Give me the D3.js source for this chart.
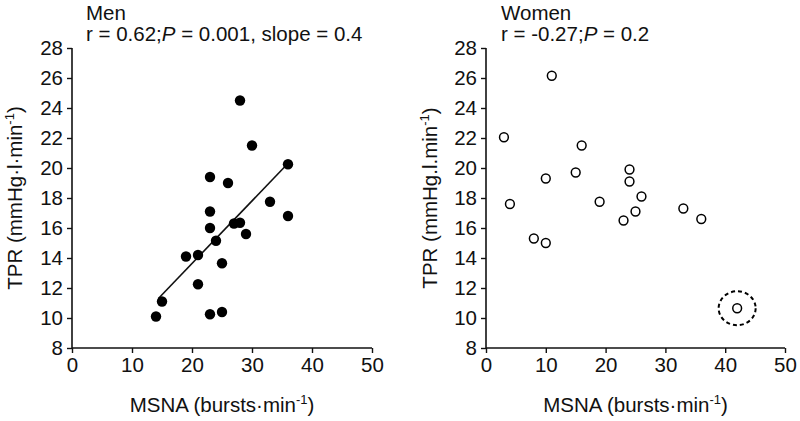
<!DOCTYPE html>
<html><head><meta charset="utf-8">
<script src="https://cdn.jsdelivr.net/npm/d3@7"></script>
<style>body{margin:0;background:#fff}svg{display:block}text{font-family:"Liberation Sans",Arial,sans-serif;fill:#111}</style>
</head><body>
<svg id="c" width="800" height="421"></svg>
<script>
// Data
const menX = [28, 30, 36, 23, 26, 33, 23, 36, 23, 27, 28, 29, 24, 19, 21, 25, 21, 15, 14, 23, 25];
const menY = [24.5, 21.5, 20.25, 19.4, 19.0, 17.75, 17.1, 16.8, 16.0, 16.3, 16.35, 15.6, 15.15, 14.1, 14.2, 13.65, 12.25, 11.1, 10.1, 10.25, 10.4];
const menLineX = [14.4, 35.5];
const menLineY = [11.3, 20.1];
const womenX = [11, 3, 16, 10, 15, 24, 24, 26, 19, 4, 33, 25, 23, 36, 8, 10, 42];
const womenY = [26.15, 22.05, 21.5, 19.3, 19.7, 19.9, 19.1, 18.1, 17.75, 17.6, 17.3, 17.1, 16.5, 16.6, 15.3, 15.0, 10.65];
const outlierIndex = 16;
const xTicks = [0, 10, 20, 30, 40, 50];
const yTicks = [8, 10, 12, 14, 16, 18, 20, 22, 24, 26, 28];

const svg = d3.select("#c");
const FS = 20.5;

function panel(x0, x1, opts) {
  const x = d3.scaleLinear().domain([0, 50]).range([x0, x1]);
  const y = d3.scaleLinear().domain([8, 28]).range([348, 48]);
  const g = svg.append("g");
  const ya = g.append("g").attr("transform", `translate(${x0},0)`)
    .call(d3.axisLeft(y).tickValues(yTicks).tickSize(5).tickPadding(4));
  const xa = g.append("g").attr("transform", `translate(0,348)`)
    .call(d3.axisBottom(x).tickValues(xTicks).tickSize(5).tickPadding(4));
  [ya, xa].forEach(a => {
    a.select(".domain").attr("stroke", "#111").attr("stroke-width", 1.6);
    a.selectAll(".tick line").attr("stroke", "#111").attr("stroke-width", 1.4);
    a.selectAll(".tick text").attr("font-size", FS).attr("font-family", "Liberation Sans, Arial, sans-serif").attr("fill", "#111");
  });
  ya.select(".domain").attr("d", `M0,${y(8)}V${y(28)}`);
  xa.select(".domain").attr("d", `M${x0},0H${x1}`);

  // titles
  g.append("text").attr("x", opts.titleX).attr("y", 20).attr("font-size", FS).text(opts.title);
  const st = g.append("text").attr("x", opts.titleX).attr("y", 41).attr("font-size", FS);
  st.append("tspan").text(opts.r + ";");
  st.append("tspan").attr("font-style", "italic").text("P");
  st.append("tspan").text(opts.p);

  // y label
  const yl = g.append("text").attr("transform", `translate(${opts.yLabelX},${(y(8)+y(28))/2}) rotate(-90)`)
    .attr("text-anchor", "middle").attr("font-size", FS);
  yl.append("tspan").text(opts.yLabel);
  yl.append("tspan").attr("font-size", 13).attr("dy", -8).text("-1");
  yl.append("tspan").attr("dy", 8).text(")");

  // x label
  const xl = g.append("text").attr("x", (x0 + x1) / 2).attr("y", 412)
    .attr("text-anchor", "middle").attr("font-size", FS);
  xl.append("tspan").text("MSNA (bursts\u00B7min");
  xl.append("tspan").attr("font-size", 13).attr("dy", -8).text("-1");
  xl.append("tspan").attr("dy", 8).text(")");
  return {x, y, g};
}

const L = panel(72, 372, {titleX: 86, title: "Men", r: "r = 0.62", p: " = 0.001, slope = 0.4", yLabel: "TPR (mmHg\u00B7l\u00B7min", yLabelX: 22});
L.g.append("line")
  .attr("x1", L.x(menLineX[0])).attr("y1", L.y(menLineY[0]))
  .attr("x2", L.x(menLineX[1])).attr("y2", L.y(menLineY[1]))
  .attr("stroke", "#111").attr("stroke-width", 1.6);
L.g.selectAll("circle.m").data(d3.range(menX.length)).join("circle")
  .attr("cx", i => L.x(menX[i])).attr("cy", i => L.y(menY[i])).attr("r", 5.2).attr("fill", "#000");

const R = panel(486, 785, {titleX: 501, title: "Women", r: "r = -0.27", p: " = 0.2", yLabel: "TPR (mmHg.l.min", yLabelX: 437});
R.g.selectAll("circle.w").data(d3.range(womenX.length)).join("circle")
  .attr("cx", i => R.x(womenX[i])).attr("cy", i => R.y(womenY[i])).attr("r", 4.4)
  .attr("fill", "#fff").attr("stroke", "#000").attr("stroke-width", 1.5);
R.g.append("ellipse")
  .attr("cx", R.x(womenX[outlierIndex])).attr("cy", R.y(womenY[outlierIndex]))
  .attr("rx", 18.5).attr("ry", 17).attr("fill", "none").attr("stroke", "#000")
  .attr("stroke-width", 2).attr("stroke-dasharray", "4,3");
</script>
</body></html>
